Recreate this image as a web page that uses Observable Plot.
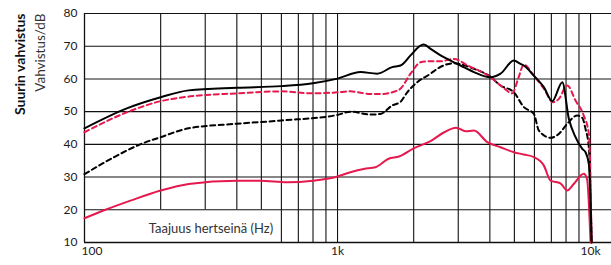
<!DOCTYPE html>
<html><head><meta charset="utf-8">
<script src="https://cdn.jsdelivr.net/npm/d3@7"></script>
<script src="https://cdn.jsdelivr.net/npm/@observablehq/plot@0.6"></script>
<style>body{margin:0;background:#fff;} #chart svg{display:block;}</style>
</head><body><div id="chart"></div>
<script>
// ---- data ----
const freqBlackSolid = [100,147,200,258,400,600,800,1000,1233,1435,1645,1774,1944,2128,2194,2332,2554,2797,3062,3458,4024,4407,4977,5286,5447,5970,6539,7059,7734,8207,8722,9276,9553,9846,10100];
const dbBlackSolid   = [44.9,51.0,54.4,56.5,57.3,57.8,58.7,60.1,62.1,61.6,63.6,64.1,67.2,70.2,70.5,69.2,67.2,65.6,64.1,62.1,60.5,61.6,65.6,64.6,64.1,61.0,57.5,53.2,59.0,47.8,42.2,38.6,37.6,34.0,10];

const freqBlackDashed = [100,131,166,200,258,400,600,1000,1125,1350,1480,1645,1774,1885,2065,2332,2478,2884,3458,3964,4407,4977,5447,5970,6249,6950,7496,8090,8851,9276,9553,9846,10100];
const dbBlackDashed   = [30.9,36.1,40.0,42.2,44.9,46.3,47.3,49.0,50.0,49.1,49.3,51.9,53.0,55.9,59.0,61.6,63.1,64.8,63.1,61.0,58.0,55.9,51.4,49.3,44.2,42.0,43.2,46.3,48.8,48.1,44.7,39.1,10];

const freqPinkDashed = [100,147,200,258,400,600,800,1000,1125,1350,1480,1750,1944,2128,2296,2554,2884,3270,4024,4522,4900,5196,5447,5970,6539,7100,7496,8090,8722,9400,9846,10100];
const dbPinkDashed   = [43.7,49.8,53.2,54.6,55.6,56.2,55.6,55.9,56.2,55.4,55.4,56.7,61.6,65.1,65.4,65.4,66.1,64.1,60.5,57.3,55.6,60.5,64.4,61.0,57.0,52.9,53.9,58.0,53.4,48.8,43.2,10];

const freqPinkSolid = [100,121,152,200,258,400,496,632,800,1000,1125,1270,1413,1592,1750,2000,2332,2640,2940,3211,3458,3906,4407,4977,5447,5970,6539,6950,7600,8090,8580,9400,9684,10000];
const dbPinkSolid   = [17.4,20.0,22.8,25.9,27.9,28.9,28.9,28.4,28.9,30.2,31.5,32.5,33.0,35.6,36.3,38.8,41.0,43.7,45.1,44.0,44.2,40.7,39.1,37.6,36.9,36.1,33.5,28.9,28.1,25.9,27.9,31.0,29.4,10];

const yTicks = [10,20,30,40,50,60,70,80];
const xTickFirst = [100];
const xTicksRest = [1000,10000];
const xTickLabel = {100:"100",1000:"1k",10000:"10k"};
const gridFull = [600,700,800,900,1000,2000,3000,4000,5000,6000,7000,8000,9000,10000];
const gridShort = [200,300,400,500];
const xLabel = "Taajuus hertseinä (Hz)";
const yTitle = "Suurin vahvistus";
const ySubTitle = "Vahvistus/dB";

// ---- build ----
const rows = (f, v) => f.map((x, i) => ({f: x, v: v[i]}));
const pink = "#e6194e";
const font = "Lato, 'Open Sans', sans-serif";

const chart = Plot.plot({
  width: 611, height: 265,
  marginLeft: 84, marginRight: 0, marginTop: 13, marginBottom: 23,
  x: {type: "log", domain: [100, 12100]},
  y: {domain: [10, 80]},
  style: {fontFamily: font, fontSize: "12px", color: "#1a1a1a", background: "#fff"},
  marks: [
    Plot.ruleY(yTicks.filter(d => d !== 60 && d !== 10), {y: d => d, stroke: "#111", strokeWidth: 1.1}),
    Plot.ruleY([60], {stroke: "#8a8a8a", strokeWidth: 2}),
    Plot.ruleX(gridFull, {x: d => d, stroke: "#111", strokeWidth: 1.1}),
    Plot.ruleX(gridShort, {x: d => d, y1: 20, y2: 80, stroke: "#111", strokeWidth: 1.1}),
    Plot.ruleX([100], {stroke: "#111", strokeWidth: 1.3}),
    Plot.ruleY([10], {stroke: "#111", strokeWidth: 1.3}),
    Plot.axisY({ticks: yTicks, tickSize: 0, tickPadding: 7, label: null, fontSize: 12}),
    Plot.axisX({ticks: xTickFirst, tickSize: 0, tickPadding: 3.5, label: null, textAnchor: "start", dx: -3, tickFormat: d => xTickLabel[d], fontSize: 12}),
    Plot.axisX({ticks: xTicksRest, tickSize: 0, tickPadding: 3.5, label: null, tickFormat: d => xTickLabel[d], fontSize: 12}),
    Plot.text([xLabel], {frameAnchor: "bottom-left", text: d => d, textAnchor: "middle", lineAnchor: "bottom", dx: 126.5, dy: -10, fontSize: 13, fill: "#333"}),
    Plot.text([yTitle], {frameAnchor: "top-left", text: d => d, rotate: -90, textAnchor: "end", lineAnchor: "bottom", dx: -60, dy: 0, fontSize: 14, fontWeight: "bold", fill: "#111"}),
    Plot.text([ySubTitle], {frameAnchor: "top-left", text: d => d, rotate: -90, textAnchor: "end", lineAnchor: "bottom", dx: -40, dy: 0, fontSize: 13.5, fill: "#333"}),
    Plot.line(rows(freqPinkSolid, dbPinkSolid), {x: "f", y: "v", stroke: pink, strokeWidth: 2, curve: "monotone-x"}),
    Plot.line(rows(freqBlackDashed, dbBlackDashed), {x: "f", y: "v", stroke: "#000", strokeWidth: 2, strokeDasharray: "5,3.5", curve: "monotone-x"}),
    Plot.line(rows(freqPinkDashed, dbPinkDashed), {x: "f", y: "v", stroke: pink, strokeWidth: 2, strokeDasharray: "5,3.5", curve: "monotone-x"}),
    Plot.line(rows(freqBlackSolid, dbBlackSolid), {x: "f", y: "v", stroke: "#000", strokeWidth: 2, curve: "monotone-x"})
  ]
});
document.getElementById("chart").appendChild(chart);
</script>
</body></html>
